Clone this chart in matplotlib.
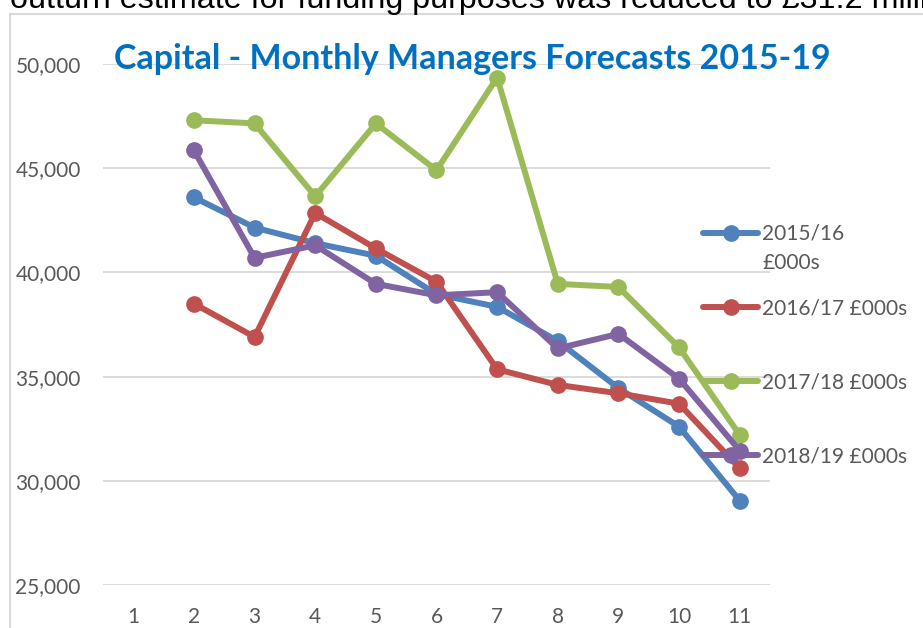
import matplotlib
matplotlib.use("Agg")
import matplotlib.pyplot as plt
from matplotlib.lines import Line2D
from matplotlib.ticker import StrMethodFormatter

# =============================================================================
#                               Data
# =============================================================================
months = [1, 2, 3, 4, 5, 6, 7, 8, 9, 10, 11]
fc_1516 = [None, 43600, 42150, 41400, 40800, 38950, 38350, 36700, 34450, 32600, 29050]
fc_1617 = [None, 38500, 36900, 42850, 41150, 39550, 35350, 34600, 34200, 33700, 30600]
fc_1718 = [None, 47300, 47150, 43650, 47150, 44900, 49350, 39450, 39300, 36400, 32200]
fc_1819 = [None, 45850, 40700, 41300, 39450, 38900, 39050, 36350, 37050, 34900, 31450]
series_labels = ["2015/16 £000s", "2016/17 £000s", "2017/18 £000s", "2018/19 £000s"]
colors = ["#4F81BD", "#C0504D", "#9BBB59", "#8064A2"]
yticks = [25000, 30000, 35000, 40000, 45000, 50000]

title = "Capital - Monthly Managers Forecasts 2015-19"
top_text = "outturn estimate for funding purposes was reduced to £31.2 million"

W, H = 923, 628
fig = plt.figure(figsize=(W / 100, H / 100), dpi=100)
ax = fig.add_axes([103 / W, 1 - 585 / H, (770 - 103) / W, (585 - 64) / H])

for vals, lab, c in zip([fc_1516, fc_1617, fc_1718, fc_1819], series_labels, colors):
    xs = [m for m, v in zip(months, vals) if v is not None]
    ys = [v for v in vals if v is not None]
    ax.plot(xs, ys, color=c, lw=4.3, marker="o", ms=11, label=lab,
            solid_capstyle="round", solid_joinstyle="round")

ax.set_xlim(0.5, 11.5)
ax.set_ylim(25000, 50000)
ax.set_xticks(months)
ax.set_yticks(yticks)
ax.yaxis.set_major_formatter(StrMethodFormatter("{x:,.0f}"))
ax.grid(axis="y", color="#D9D9D9", lw=1.3)
ax.set_axisbelow(True)
for s in ax.spines.values():
    s.set_visible(False)
ax.tick_params(length=0, labelsize=15, labelcolor="#595959")
ax.tick_params(axis="x", pad=16)
ax.tick_params(axis="y", pad=16)
for lbl in ax.get_xticklabels() + ax.get_yticklabels():
    lbl.set_family("Lato")

# title sits inside the plot area, over the top gridline
fig.text(472.5 / W, 1 - 69 / H, title, fontsize=24.5, fontweight="bold",
         color="#0070C0", family="Lato", ha="center", va="baseline")

# legend (first label wraps onto a second line in the original)
handles, labels = ax.get_legend_handles_labels()
labels[0] = labels[0].split(" ")[0]
leg = fig.legend(handles, labels, loc="upper left",
                 bbox_to_anchor=(703 / W, 1 - 224 / H), frameon=False,
                 borderpad=0, borderaxespad=0, handlelength=2.65,
                 handletextpad=0.2, labelspacing=2.6,
                 prop={"family": "Lato", "size": 15})
for t in leg.get_texts():
    t.set_color("#595959")
fig.text(762 / W, 1 - 263 / H, series_labels[0].split(" ")[1], family="Lato",
         fontsize=15, color="#595959", va="center")

# chart border and the cut-off line of report text above it
fig.add_artist(Line2D([10 / W, 10 / W], [0, 1 - 14 / H], color="#D9D9D9", lw=1.5))
fig.add_artist(Line2D([10 / W, 1], [1 - 14 / H, 1 - 14 / H], color="#D9D9D9", lw=1.5))
fig.text(10 / W, 1 - 8 / H, top_text, family="Liberation Sans", fontsize=23.2,
         color="black", va="baseline")

fig.savefig("out.png", dpi=100)
